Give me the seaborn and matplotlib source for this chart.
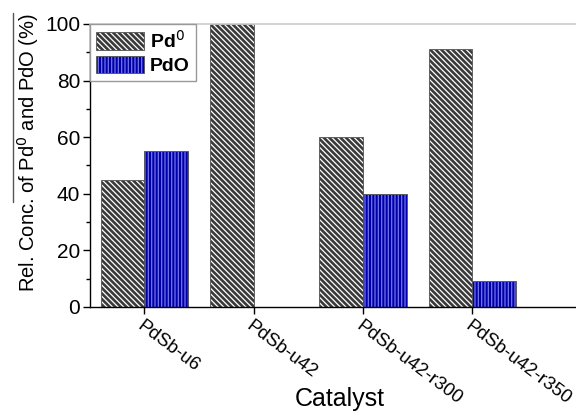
import matplotlib
matplotlib.use("Agg")
import matplotlib.pyplot as plt
import seaborn as sns
import pandas as pd
from matplotlib.patches import Patch
from matplotlib.lines import Line2D
from matplotlib.ticker import MultipleLocator

catalysts = ["PdSb-u6", "PdSb-u42", "PdSb-u42-r300", "PdSb-u42-r350"]
species = ["Pd$^0$", "PdO"]
pd0_values = [45, 100, 60, 91]
pdo_values = [55, 0, 40, 9]

df = pd.DataFrame({
    "Catalyst": catalysts * 2,
    "Species": [species[0]] * 4 + [species[1]] * 4,
    "Value": pd0_values + pdo_values,
})

sns.set_style("ticks")
plt.rcParams["font.family"] = ["Liberation Sans", "DejaVu Sans"]
plt.rcParams["hatch.linewidth"] = 0.9
for k in ["text.color", "axes.labelcolor", "xtick.color", "ytick.color"]:
    plt.rcParams[k] = "black"

fig = plt.figure(figsize=(5.76, 4.12), dpi=100)
ax = fig.add_axes([0.156, 0.255, 0.844, 0.687])

face = {species[0]: "#3a3a3a", species[1]: "#0000a8"}
hatchc = {species[0]: (1, 1, 1, 1), species[1]: (0.45, 0.45, 0.92, 1)}
hatches = {species[0]: "\\\\\\\\\\\\", species[1]: "|||||"}

sns.barplot(data=df, x="Catalyst", y="Value", hue="Species", order=catalysts,
            hue_order=species, palette=face, width=0.8, saturation=1,
            legend=False, ax=ax)

for cont, sp in zip(ax.containers, species):
    for p in cont:
        p.set_facecolor(face[sp])
        p.set_edgecolor("#555555")
        p.set_linewidth(0.6)
        p.set_hatch(hatches[sp])
        p._hatch_color = hatchc[sp]
        if p.get_height() == 0:
            p.set_linewidth(0)

handles = [Patch(facecolor=face[sp], edgecolor="#555555", hatch=hatches[sp],
                 linewidth=0.6, label=sp) for sp in species]
leg = ax.legend(handles=handles, loc="upper left", bbox_to_anchor=(0.0, 1.0),
                borderaxespad=0.0, fancybox=False, edgecolor="#999999",
                framealpha=1, handlelength=2.5, handleheight=1.0,
                borderpad=0.3, labelspacing=0.2, handletextpad=0.3,
                prop={"weight": "bold", "size": 14})
leg.get_frame().set_linewidth(1.0)
for hp, sp in zip(leg.get_patches(), species):
    hp._hatch_color = hatchc[sp]

ax.set_ylim(0, 100)
ax.set_xlim(-0.5, 3.95)
ax.yaxis.set_major_locator(MultipleLocator(20))
ax.yaxis.set_minor_locator(MultipleLocator(10))
ax.tick_params(axis="y", which="major", labelsize=15, length=5, width=1,
               direction="out", pad=2)
ax.tick_params(axis="y", which="minor", length=3, width=1, direction="out")
ax.tick_params(axis="x", labelsize=13.5, length=5, width=1, direction="out", pad=3)
for lab in ax.get_xticklabels():
    lab.set_rotation(-37)
    lab.set_ha("left")
    lab.set_va("top")
    lab.set_rotation_mode("anchor")

ax.set_xlabel("Catalyst", fontsize=18)
ax.xaxis.set_label_coords(0.514, -0.283)
ax.set_ylabel("Rel. Conc. of Pd$^0$ and PdO (%)", fontsize=14.5)
ax.yaxis.set_label_coords(-0.10, 0.544)

ax.spines["right"].set_visible(False)
ax.spines["top"].set_color("#cccccc")
ax.spines["top"].set_linewidth(1.2)
for s in ["left", "bottom"]:
    ax.spines[s].set_color("black")
    ax.spines[s].set_linewidth(1)

fig.add_artist(Line2D([13 / 576, 13 / 576], [1 - 13 / 412, 1 - 202 / 412],
                      color="#555555", linewidth=1, transform=fig.transFigure))

fig.savefig("out.png", dpi=100)
